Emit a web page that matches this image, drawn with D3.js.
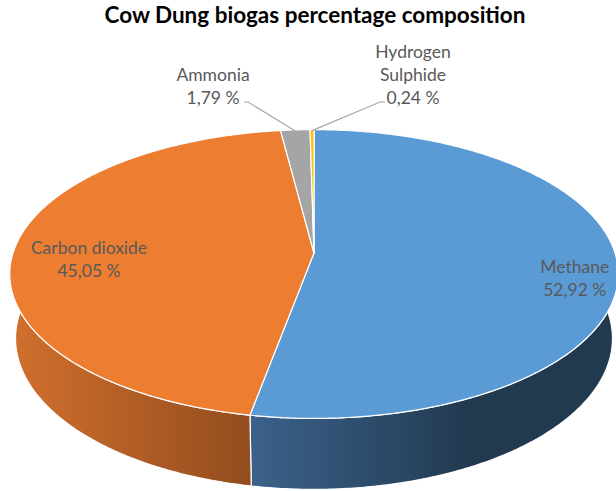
<!DOCTYPE html>
<html lang="en">
  <head>
    <meta charset="utf-8">
    <title>Cow Dung biogas percentage composition</title>
    <script type="text/javascript" src="https://cdn.jsdelivr.net/npm/d3@7"></script>
    <style>
      body { margin: 0; background: #fff; }
    </style>
  </head>
  <body>
    <script type="text/javascript">
      var width = 616;
      var height = 491;

      var categories = ["Methane", "Carbon dioxide", "Ammonia", "Hydrogen Sulphide"];
      var values = [52.92, 45.05, 1.79, 0.24];
      var valueLabels = ["52,92 %", "45,05 %", "1,79 %", "0,24 %"];
      var nameLines = [["Methane"], ["Carbon dioxide"], ["Ammonia"], ["Hydrogen", "Sulphide"]];
      var topColors = ["#5b9bd5", "#ed7d31", "#a5a5a5", "#ffc000"];
      var sideColors = [["#3b628b", "#223a50"], ["#cf6e2d", "#934d1e"], ["#7c7c7c", "#5a5a5a"], ["#bf9000", "#a07800"]];

      // simple perspective projection of a tilted disc
      var cx = 314, cy = 253;
      var tilt = 28 * Math.PI / 180;
      var dist = 6.06;          // camera distance in pie radii
      var focal = 301 * dist;   // px per radius at the centre depth
      var depth = 0.245;        // thickness in pie radii

      function proj(theta, r, y) {
        var X = r * Math.sin(theta);
        var Z = r * Math.cos(theta);
        var yc = y * Math.cos(tilt) + Z * Math.sin(tilt);
        var zc = Z * Math.cos(tilt) - y * Math.sin(tilt) + dist;
        return [cx + focal * X / zc, cy - focal * yc / zc];
      }

      function arcPoints(a0, a1, r, y) {
        var n = Math.max(2, Math.ceil((a1 - a0) / 0.01));
        return d3.range(n + 1).map(function(i) {
          return proj(a0 + (a1 - a0) * i / n, r, y);
        });
      }

      var pie = d3.pie().sort(null).value(function(d) { return d; });
      var slices = pie(values);

      var svg = d3.select("body")
            .append("svg")
            .attr("width", width)
            .attr("height", height);

      var defs = svg.append("defs");
      var line = d3.line();

      // side walls (front part only matters, the top face hides the rest)
      var front0 = Math.PI / 2 - 0.3, front1 = 3 * Math.PI / 2 + 0.3;
      slices.forEach(function(s, i) {
        var a0 = Math.max(s.startAngle, front0);
        var a1 = Math.min(s.endAngle, front1);
        if (a1 <= a0) return;
        var top = arcPoints(a0, a1, 1, 0);
        var bottom = arcPoints(a0, a1, 1, -depth).reverse();
        var xs = top.map(function(p) { return p[0]; });
        var g = defs.append("linearGradient")
            .attr("id", "side" + i)
            .attr("gradientUnits", "userSpaceOnUse")
            .attr("x1", i === 0 ? d3.min(xs) : d3.min(xs) + 10)
            .attr("x2", i === 0 ? d3.min(xs) + 220 : d3.max(xs))
            .attr("y1", 0).attr("y2", 0);
        g.append("stop").attr("offset", 0).attr("stop-color", sideColors[i][0]);
        g.append("stop").attr("offset", 1).attr("stop-color", sideColors[i][1]);
        svg.append("path")
           .attr("d", line(top.concat(bottom)) + "Z")
           .attr("fill", "url(#side" + i + ")")
           .attr("stroke", "#fff")
           .attr("stroke-width", 1.2)
           .attr("stroke-linejoin", "round");
      });

      // top faces
      svg.selectAll("path.top")
         .data(slices)
         .enter()
         .append("path")
         .attr("class", "top")
         .attr("d", function(s) {
           return line([[cx, cy]].concat(arcPoints(s.startAngle, s.endAngle, 1, 0))) + "Z";
         })
         .attr("fill", function(s, i) { return topColors[i]; })
         .attr("stroke", "#fff")
         .attr("stroke-width", 1.2)
         .attr("stroke-linejoin", "round");

      // data labels
      var labelFont = "Lato, 'Open Sans', sans-serif";
      var labelColor = "#595959";
      var lineH = 23;
      // inside labels sit on the slice, outside labels above the back edge
      var labelPos = slices.map(function(s, i) {
        var mid = (s.startAngle + s.endAngle) / 2;
        if (i === 0) return proj(mid, 0.86, 0);
        if (i === 1) return proj(mid, 0.75, 0);
        return null;
      });
      labelPos[0][1] += 14;
      labelPos[1][1] += 9;
      labelPos[2] = [213, 86];
      labelPos[3] = [413, 75];

      slices.forEach(function(s, i) {
        var lines = nameLines[i].concat([valueLabels[i]]);
        var p = labelPos[i];
        var y0 = p[1] - (lines.length - 1) * lineH / 2;
        var t = svg.append("text")
           .attr("font-family", labelFont)
           .attr("font-size", "17.5px")
           .attr("fill", labelColor)
           .attr("text-anchor", "middle");
        lines.forEach(function(l, k) {
          t.append("tspan")
           .attr("x", p[0])
           .attr("y", y0 + k * lineH + 6)
           .text(l);
        });
      });

      // leader lines for the two small slices
      var leaders = [
        { i: 2, pts: [[244, 102], [248, 102]] },
        { i: 3, pts: [[385, 102], [380, 102]] }
      ];
      leaders.forEach(function(ld) {
        var s = slices[ld.i];
        var edge = proj((s.startAngle + s.endAngle) / 2, 1, 0);
        svg.append("path")
           .attr("d", line(ld.pts.concat([[edge[0], edge[1] + 1]])))
           .attr("fill", "none")
           .attr("stroke", "#a6a6a6")
           .attr("stroke-width", 1.2);
      });

      // title
      svg.append("text")
         .attr("x", 315)
         .attr("y", 23)
         .attr("text-anchor", "middle")
         .attr("font-family", labelFont)
         .attr("font-weight", "bold")
         .attr("font-size", "22.5px")
         .attr("fill", "#000")
         .text("Cow Dung biogas percentage composition");
    </script>
  </body>
</html>
